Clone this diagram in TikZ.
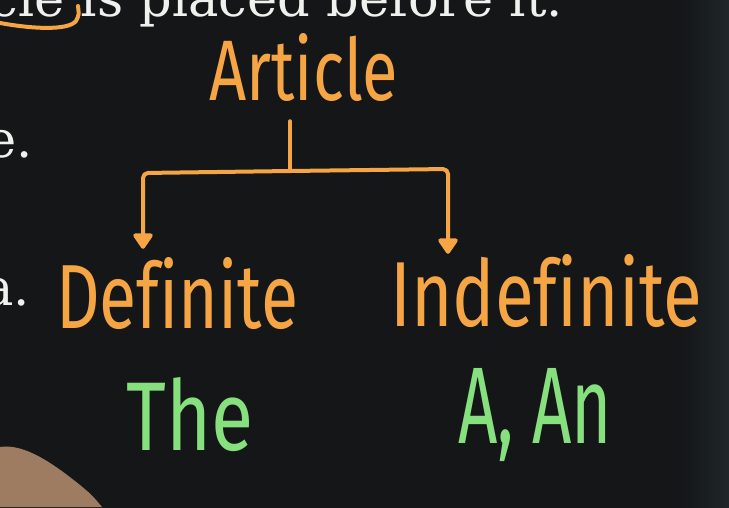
\documentclass[tikz,border=0pt]{standalone}
\usepackage{fontspec}
\setmainfont{DejaVu Serif}
\newfontfamily\handfont[Ligatures=NoCommon]{Fira Sans}
\usetikzlibrary{arrows.meta}
\definecolor{board}{HTML}{141618}
\definecolor{boardedge}{HTML}{232A2D}
\definecolor{chalkorange}{HTML}{F6A545}
\definecolor{chalkgreen}{HTML}{86E07E}
\definecolor{printwhite}{HTML}{F0F0EE}
\definecolor{skin}{HTML}{9E7C62}
\newcommand{\handword}[3]{\resizebox{#1}{#2}{\handfont #3}}
\tikzset{
  printtext/.style={anchor=base east, inner sep=0pt, text=printwhite, font=\fontsize{51}{60}\selectfont},
  handorange/.style={anchor=base west, inner sep=0pt, text=chalkorange},
  handgreen/.style={anchor=base west, inner sep=0pt, text=chalkgreen},
  chalkline/.style={draw=chalkorange, line width=4pt, line cap=round, line join=round},
  chalkarrow/.style={chalkline, rounded corners=5pt, -{Triangle[width=22pt, length=17pt, round]}}
}
\begin{document}
\begin{tikzpicture}[x=1pt, y=-1pt]
\useasboundingbox (0,0) rectangle (729,507);
\clip (0,0) rectangle (729,507);
\fill[board] (-5,-5) rectangle (735,512);
\shade[left color=board, right color=boardedge] (680,-10) rectangle (740,520);
% printed text on the board
\node[printtext] (top) at (563,16) {article is placed before it.};
\node[printtext] (eend) at (33,157) {e.};
\node[printtext] (aend) at (30,305) {a.};
% orange underline
\draw[chalkline] (-5,22) .. controls (30,29) and (68,31) .. (76,21) .. controls (79,15) .. (78,6);
% handwritten words
\node[handorange] (art) at (209,100) {\handword{189pt}{67pt}{Article}};
\node[handorange] (def) at (56,328) {\handword{242pt}{71pt}{Definite}};
\node[handorange] (indef) at (390,326) {\handword{312pt}{72pt}{Indefinite}};
\node[handgreen] (the) at (126,450) {\handword{127pt}{73pt}{The}};
\node[handgreen] (aan) at (458,443) {\handword{154pt}{75pt}{A, An}};
% connectors
\coordinate (j) at (290,171);
\coordinate (l) at (143,173);
\coordinate (r) at (448,169);
\draw[chalkline, shorten <=20pt] (j |- art.south) -- (j);
\draw[chalkarrow, shorten >=8pt] (j) -- (l) -- (l |- def.north);
\draw[chalkarrow] (j) -- (r) -- (r |- indef.north);
% hand in the corner
\fill[skin] (0,447) .. controls (25,443) and (55,465) .. (80,485) .. controls (92,495) .. (102,507) -- (0,507) -- cycle;
\end{tikzpicture}
\end{document}
